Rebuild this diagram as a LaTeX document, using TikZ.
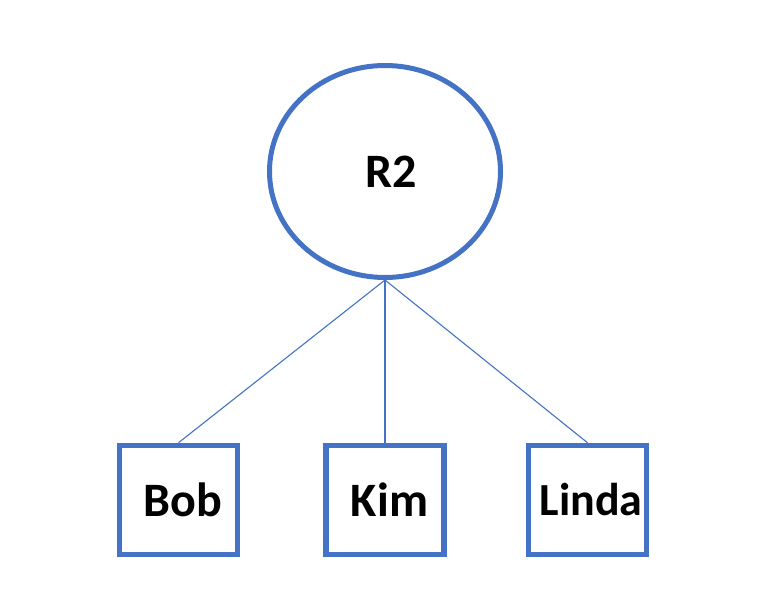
\documentclass[tikz,border=0pt]{standalone}
\usepackage{fontspec}
\setmainfont{Carlito}
\usetikzlibrary{shapes.geometric,positioning}
\definecolor{nodeblue}{HTML}{4472C4}
\newcommand{\nm}{\bfseries\fontsize{48}{56}\selectfont}

\begin{document}
\begin{tikzpicture}[x=1pt, y=-1pt,
  latent/.style={ellipse, draw=nodeblue, line width=5pt, inner sep=0pt,
                 minimum width=231pt, minimum height=212pt, font=\nm},
  person/.style={rectangle, draw=nodeblue, line width=5.5pt, inner sep=0pt,
                 minimum width=118pt, minimum height=109pt, font=\nm},
  link/.style={draw=nodeblue, line width=1.1pt}]

% page frame, pixel units of the reference
\useasboundingbox (0,0) rectangle (768,604);

% ================================================================== factor and its indicators
\node[latent] (r2) at (385,171.5) {\hspace{12pt}R2};
\node[person] (bob)   at (178.5,500) {\hspace{9pt}Bob};
\node[person] (kim)   at (385,500)   {\hspace{9pt}Kim};
\node[person, font=\bfseries\fontsize{46}{54}\selectfont] (linda) at (587.5,500) {\hspace{7pt}Linda};

% loadings
\draw[link] (r2.south) -- (bob.north);
\draw[link] (r2.south) -- (kim.north);
\draw[link] (r2.south) -- (linda.north);
\end{tikzpicture}
\end{document}
